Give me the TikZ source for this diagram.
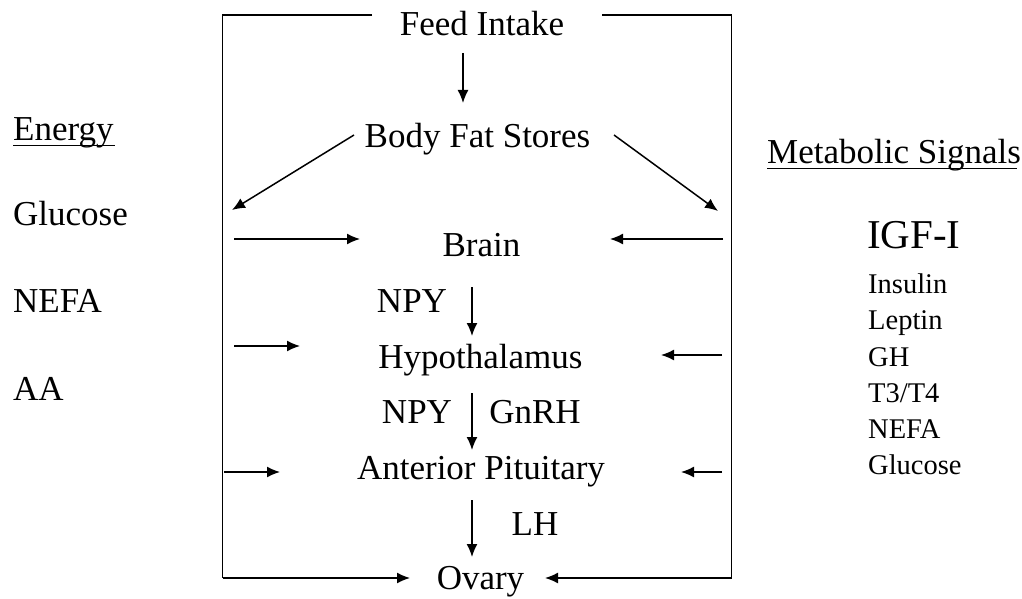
\documentclass[tikz,border=0pt]{standalone}
\usepackage{fontspec}
\setmainfont{Liberation Serif}
\usetikzlibrary{arrows.meta}
\begin{document}
\begin{tikzpicture}[x=1pt,y=-1pt,
  lbl/.style={inner sep=0pt,anchor=base,font=\fontsize{35}{42}\selectfont},
  side/.style={inner sep=0pt,anchor=base west,font=\fontsize{35}{42}\selectfont},
  sig/.style={inner sep=0pt,anchor=base west,font=\fontsize{28.5}{34}\selectfont},
  ln/.style={line width=1.5pt},
  arr/.style={line width=1.5pt,-{Latex[length=13pt,width=11pt]}}]
\useasboundingbox (0,0) rectangle (1022,599);
% main chain
\node[lbl] (feed) at (482,36) {Feed Intake};
\node[lbl] (fat) at (477.5,147) {Body Fat Stores};
\node[lbl] (brain) at (481.5,256) {Brain};
\node[lbl] (npyA) at (412,312) {NPY};
\node[lbl] (hyp) at (480.5,368) {Hypothalamus};
\node[lbl] (npyB) at (417,423) {NPY};
\node[lbl] (gnrh) at (535,423) {GnRH};
\node[lbl] (ap) at (481,479) {Anterior Pituitary};
\node[lbl] (lh) at (535,535) {LH};
\node[lbl] (ovary) at (480.5,589) {Ovary};
% left column
\node[side] (energy) at (13,140) {Energy};
\node[side] (glu) at (13,225) {Glucose};
\node[side] (nefa) at (13,312) {NEFA};
\node[side] (aa) at (13,400) {AA};
\draw[ln] (13,145.5) -- (115,145.5);
% right column
\node[side] (meta) at (767,163) {Metabolic Signals};
\draw[ln] (767,168.5) -- (1017,168.5);
\node[inner sep=0pt,anchor=base west,font=\fontsize{41}{48}\selectfont] (igf) at (867,248) {IGF-I};
\node[sig] (ins) at (868,293) {Insulin};
\node[sig] (lep) at (868,329) {Leptin};
\node[sig] (gh) at (868,366) {GH};
\node[sig] (t34) at (868,402) {T3/T4};
\node[sig] (nefb) at (868,438) {NEFA};
\node[sig] (glub) at (868,474) {Glucose};
% frame coordinates
\coordinate (tl1) at (372,15);
\coordinate (tl0) at (222.5,15);
\coordinate (bl) at (222.5,578);
\coordinate (tr1) at (602,15);
\coordinate (tr0) at (731.5,15);
\coordinate (br) at (731.5,578);
\coordinate (ovL) at (410,578);
\coordinate (ovR) at (545,578);
\draw[ln] (tl1) -- (tl0) -- (bl);
\draw[ln] (tr1) -- (tr0) -- (br);
\draw[arr] (bl) -- (ovL);
\draw[arr] (br) -- (ovR);
% vertical chain arrows
\coordinate (a1s) at (463,53);  \coordinate (a1e) at (463,103);
\draw[arr] (a1s) -- (a1e);
\coordinate (a2s) at (472,287); \coordinate (a2e) at (472,336);
\draw[arr] (a2s) -- (a2e);
\coordinate (a3s) at (472,393); \coordinate (a3e) at (472,450);
\draw[arr] (a3s) -- (a3e);
\coordinate (a4s) at (472,500); \coordinate (a4e) at (472,557);
\draw[arr] (a4s) -- (a4e);
% diagonals from body fat
\coordinate (d1s) at (354,135); \coordinate (d1e) at (232,210);
\coordinate (d2s) at (614,135); \coordinate (d2e) at (718,211);
\draw[arr] (d1s) -- (d1e);
\draw[arr] (d2s) -- (d2e);
% side inputs
\coordinate (b1s) at (234,239); \coordinate (b1e) at (360,239);
\coordinate (b2s) at (723,239); \coordinate (b2e) at (610,239);
\draw[arr] (b1s) -- (b1e);
\draw[arr] (b2s) -- (b2e);
\coordinate (h1s) at (234,346); \coordinate (h1e) at (300,346);
\coordinate (h2s) at (722,355); \coordinate (h2e) at (661,355);
\draw[arr] (h1s) -- (h1e);
\draw[arr] (h2s) -- (h2e);
\coordinate (p1s) at (224,472); \coordinate (p1e) at (280,472);
\coordinate (p2s) at (722,472); \coordinate (p2e) at (681,472);
\draw[arr] (p1s) -- (p1e);
\draw[arr] (p2s) -- (p2e);
\end{tikzpicture}
\end{document}
